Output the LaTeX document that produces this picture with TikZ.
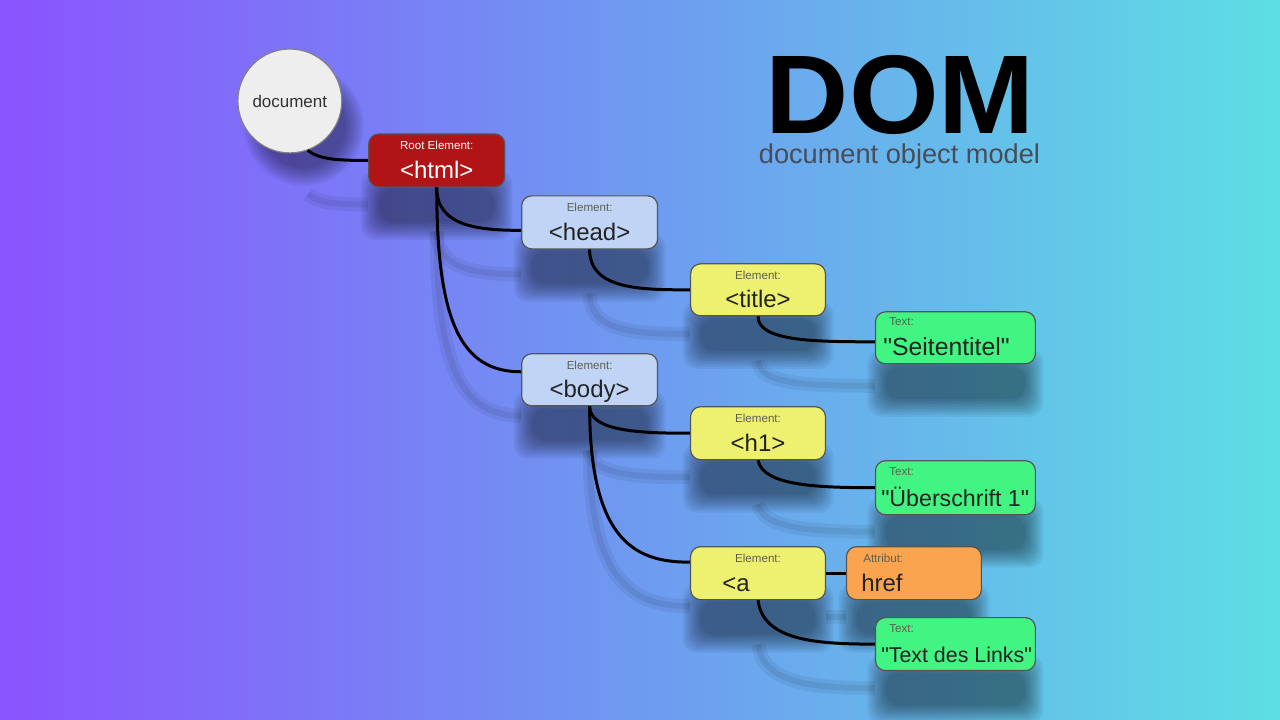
\documentclass[tikz,border=0pt]{standalone}
\usepackage{fontspec}
\setmainfont{Liberation Sans}[Ligatures=TeXOff]
\usetikzlibrary{calc}
\definecolor{bgleft}{RGB}{138,84,254}
\definecolor{bgmid}{RGB}{110,155,240}
\definecolor{bgright}{RGB}{93,222,228}
\definecolor{htmlred}{RGB}{176,20,22}
\definecolor{elblue}{RGB}{192,212,246}
\definecolor{elyellow}{RGB}{238,240,112}
\definecolor{txtgreen}{RGB}{66,244,130}
\definecolor{attrorange}{RGB}{250,164,80}
\definecolor{boxline}{RGB}{85,85,85}
\definecolor{maintext}{RGB}{35,35,35}
\definecolor{smalltext}{RGB}{95,95,80}
\definecolor{domsub}{RGB}{72,76,90}
\definecolor{docfill}{RGB}{238,238,238}
\definecolor{doctext}{RGB}{50,50,50}
\newcommand\myconnectors{%
  \draw[conn] (doc.-70) .. controls +(12,10) and +(-25,0) .. (html.west);
  \draw[conn] (html.south) .. controls +(0,38) and +(-45,0) .. ($(head.west)+(0,8)$);
  \draw[conn] (html.south) .. controls +(0,135) and +(-60,0) .. ($(body.west)+(0,-8)$);
  \draw[conn] (head.south) .. controls +(0,40) and +(-50,0) .. (title.west);
  \draw[conn] (title.south) .. controls +(0,25) and +(-60,0) .. ($(seit.west)+(0,4)$);
  \draw[conn] (body.south) .. controls +(0,25) and +(-50,0) .. (h1.west);
  \draw[conn] (body.south) .. controls +(0,140) and +(-50,0) .. ($(a.west)+(0,-11)$);
  \draw[conn] (h1.south) .. controls +(5,25) and +(-60,0) .. (ueb.west);
  \draw[conn] (a.east) -- (href.west);
  \draw[conn] (a.south) .. controls +(5,40) and +(-60,0) .. (links.west);
}
% soft shadow of a box: centre x, centre y, width, height (pixels)
\newcommand\boxshadow[4]{%
  \foreach \k in {0,...,9}{
    \fill[black, opacity=0.05, rounded corners=7pt]
      ({#1-#3/2+10-2*\k},{#2-#4/2+45+10-2*\k}) rectangle ({#1+#3/2-10+2*\k},{#2+#4/2+45-10+2*\k});
  }%
}
\begin{document}
\begin{tikzpicture}[x=0.5pt,y=-0.5pt,
  box/.style={draw=boxline, line width=0.6pt, rounded corners=5pt, inner sep=0pt,
    minimum width=68pt, minimum height=26.5pt},
  wbox/.style={box, minimum width=80pt},
  conn/.style={black, line width=1.5pt},
  small/.style={font=\fontsize{5.8}{7}\selectfont, text=smalltext, inner sep=0pt, anchor=base},
  smallw/.style={small, anchor=base west},
  mainl/.style={font=\fontsize{12}{14}\selectfont, text=maintext, inner sep=0pt, anchor=base},
  textl/.style={text=maintext, inner sep=0pt, anchor=base west},
]
% background gradient
\foreach \i in {0,...,79}{
  \pgfmathtruncatemacro\t{\i*100/79}
  \fill[bgmid!\t!bgleft] (\i*8,0) rectangle (\i*8+8.8,720);
}
\foreach \i in {80,...,159}{
  \pgfmathtruncatemacro\t{(\i-80)*100/79}
  \fill[bgright!\t!bgmid] (\i*8,0) rectangle (\i*8+8.8,720);
}
\useasboundingbox (0,0) rectangle (1280,720);

% shadows of boxes and circle
\boxshadow{437}{160.5}{136}{53}
\boxshadow{590}{222.5}{136}{53}
\boxshadow{758.5}{290}{135}{52}
\boxshadow{956}{338}{160}{52}
\boxshadow{590}{380}{136}{52}
\boxshadow{758.5}{433.5}{135}{53}
\boxshadow{956}{488}{160}{54}
\boxshadow{758.5}{573.5}{135}{53}
\boxshadow{914.5}{573.5}{135}{53}
\boxshadow{956}{644.5}{160}{53}
\foreach \k in {0,...,9}{
  \fill[black, opacity=0.045] (304,126) circle[radius=21pt+\k*1pt];
}

% title
\node[font=\fontsize{56}{58}\selectfont\bfseries, text=black, inner sep=0pt, anchor=base] (dom) at (901,134) {\scalebox{1.03}[1]{DOM}};
\node[font=\fontsize{13.6}{15}\selectfont, text=domsub, inner sep=0pt, anchor=base, text height=6pt] (domsub) at (900,164) {document object model};

% document circle
\node[circle, draw=gray, line width=0.6pt, fill=docfill, minimum size=52pt, inner sep=0pt,
  font=\fontsize{8.5}{10}\selectfont, text=doctext] (doc) at (290,101) {document};

% boxes
\node[box, fill=htmlred] (html) at (437,160.5) {};
\node[box, fill=elblue] (head) at (590,222.5) {};
\node[box, fill=elyellow, minimum width=67.5pt, minimum height=26pt] (title) at (758.5,290) {};
\node[wbox, fill=txtgreen, minimum height=26pt] (seit) at (956,338) {};
\node[box, fill=elblue, minimum height=26pt] (body) at (590,380) {};
\node[box, fill=elyellow, minimum width=67.5pt] (h1) at (758.5,433.5) {};
\node[wbox, fill=txtgreen, minimum height=27pt] (ueb) at (956,488) {};
\node[box, fill=elyellow, minimum width=67.5pt] (a) at (758.5,573.5) {};
\node[box, fill=attrorange, minimum width=67.5pt] (href) at (914.5,573.5) {};
\node[wbox, fill=txtgreen] (links) at (956,644.5) {};

% labels
\node[small, text=white] (htmlk) at ($(html.north)+(0,16)$) {Root Element:};
\node[mainl, text=white] (htmlv) at ($(html.north)+(0,45)$) {<html>};
\node[small] (headk) at ($(head.north)+(0,16)$) {Element:};
\node[mainl] (headv) at ($(head.north)+(0,45)$) {<head>};
\node[small] (titlek) at ($(title.north)+(0,16)$) {Element:};
\node[mainl] (titlev) at ($(title.north)+(0,44)$) {<title>};
\node[smallw] (seitk) at ($(seit.north west)+(14,14)$) {Text:};
\node[textl, font=\fontsize{12.4}{14}\selectfont] (seitv) at ($(seit.north west)+(8,44)$) {"Seitentitel"};
\node[small] (bodyk) at ($(body.north)+(0,16)$) {Element:};
\node[mainl] (bodyv) at ($(body.north)+(0,44)$) {<body>};
\node[small] (h1k) at ($(h1.north)+(0,16)$) {Element:};
\node[mainl] (h1v) at ($(h1.north)+(0,45)$) {<h1>};
\node[smallw] (uebk) at ($(ueb.north west)+(14,15)$) {Text:};
\node[textl, font=\fontsize{11.6}{14}\selectfont] (uebv) at ($(ueb.north west)+(6,46)$) {"Überschrift 1"};
\node[small] (ak) at ($(a.north)+(0,16)$) {Element:};
\node[mainl, anchor=base west] (av) at ($(a.north west)+(32,45)$) {<a};
\node[smallw] (hrefk) at ($(href.north west)+(17,16)$) {Attribut:};
\node[mainl, anchor=base west] (hrefv) at ($(href.north west)+(15,45)$) {href};
\node[smallw] (linksk) at ($(links.north west)+(14,15)$) {Text:};
\node[textl, font=\fontsize{10.7}{13}\selectfont] (linksv) at ($(links.north west)+(6,45)$) {"Text des Links"};

% connector shadows
\begin{scope}[transform canvas={yshift=-22pt}, conn/.style={black, line width=7pt, opacity=0.06}]
  \myconnectors
\end{scope}
\begin{scope}[transform canvas={yshift=-22pt}, conn/.style={black, line width=3pt, opacity=0.07}]
  \myconnectors
\end{scope}

% connectors
\myconnectors
\end{tikzpicture}
\end{document}
